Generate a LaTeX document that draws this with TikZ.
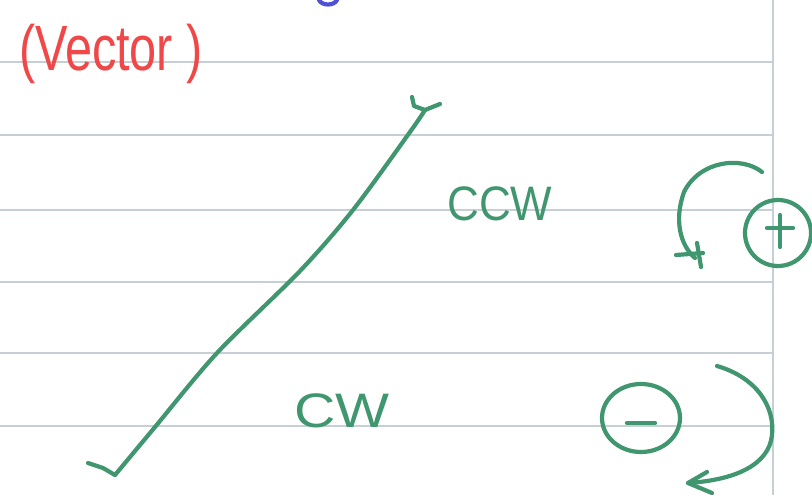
\documentclass[tikz,border=0pt]{standalone}
\usepackage{fontspec}
\setmainfont{Liberation Sans}
\usepackage{xcolor}
\definecolor{inkgreen}{RGB}{64, 150, 110}
\definecolor{inkred}{RGB}{240, 72, 72}
\definecolor{inkblue}{RGB}{80, 80, 210}
\definecolor{ruleline}{RGB}{198, 206, 214}
\usetikzlibrary{arrows.meta, positioning, calc}

\begin{document}
\begin{tikzpicture}[x=1pt, y=-1pt, >=Stealth,
    ink/.style={inkgreen, line width=4.2pt, line cap=round, line join=round},
    hand/.style={inkgreen, font=\fontsize{44}{44}\selectfont}]
    \useasboundingbox (0,0) rectangle (812,495);
    \fill[white] (0,0) rectangle (812,495);
    % ruled paper
    \foreach \yy in {62,135,210,282,353,426}
        \draw[ruleline, line width=1.2pt] (0,\yy) -- (773,\yy);
    \draw[ruleline, line width=1.2pt] (773,0) -- (773,495);
    % bits of the line above
    \draw[inkblue, line width=4.2pt, line cap=round] (319,0) .. controls (322,6) and (334,6) .. (337,0);
    \node[inkred, font=\fontsize{64}{64}\selectfont, xscale=0.76] (title) at (111,54) {(Vector )};
    % the vector
    \coordinate (tail) at (115,475);
    \coordinate (head) at (425,110);
    \draw[ink] (88,463) -- (103,468) -- (tail);
    \draw[ink] plot[smooth, tension=0.5] coordinates {(tail) (155,427) (217,353) (300,271) (353,210) (410,132) (head)};
    \draw[ink] (412,97) -- (414,106) -- (head) -- (440,104);
    \node[hand, yscale=1.1] (ccw) at (500,204) {CCW};
    \node[hand, xscale=1.3, yscale=1.1] (cw) at (342,411) {CW};
    % counter-clockwise: plus
    \coordinate (ccwstart) at (762,172);
    \coordinate (ccwend) at (695,258);
    \draw[ink] (ccwstart) .. controls (742,156) and (700,160) .. (684,192) .. controls (674,220) and (680,245) .. (ccwend);
    \draw[ink] (676,255) -- (703,253);
    \draw[ink] (697,243) -- (701,267);
    \node[ink, circle, draw, minimum size=66pt, inner sep=0pt] (plus) at (778,233) {};
    \draw[ink] ($(plus)+(-11,-5)$) -- ($(plus)+(15,-5)$);
    \draw[ink] ($(plus)+(2,-18)$) -- ($(plus)+(2,14)$);
    % clockwise: minus
    \coordinate (cwstart) at (717,366);
    \coordinate (cwend) at (688,483);
    \draw[ink] (cwstart) .. controls (758,378) and (775,408) .. (772,435) .. controls (769,465) and (735,480) .. (cwend);
    \draw[ink] (707,472) -- (cwend) -- (712,493);
    \draw[ink] (641,418) ellipse (39pt and 34pt);
    \coordinate (minus) at (641,418);
    \draw[ink] ($(minus)+(-14,5)$) -- ($(minus)+(14,5)$);
\end{tikzpicture}
\end{document}
